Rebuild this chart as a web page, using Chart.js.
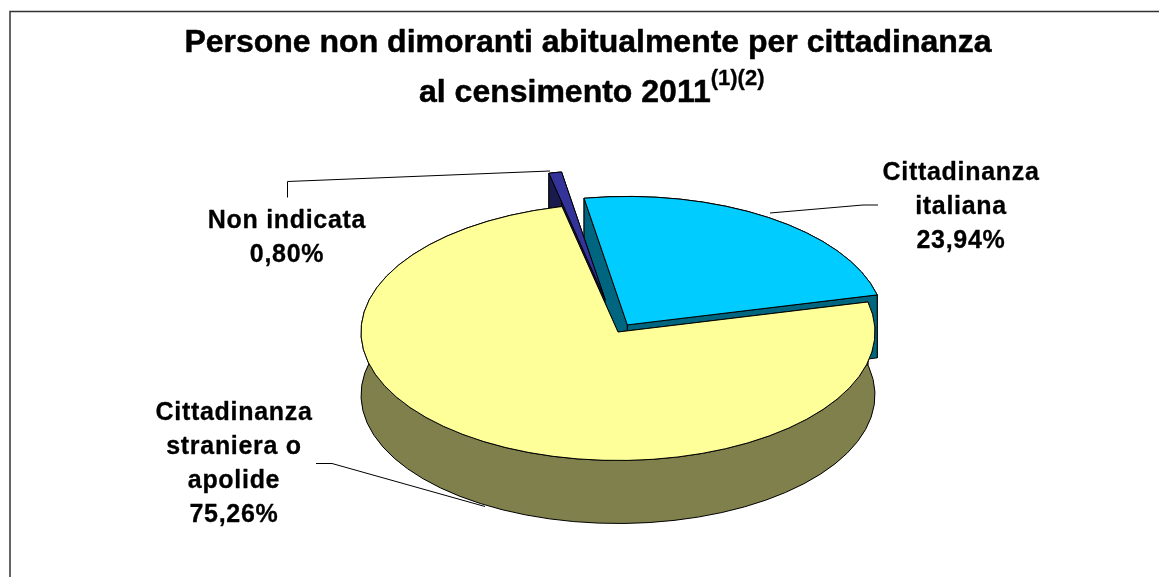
<!DOCTYPE html>
<html lang="it">
<head>
<meta charset="utf-8">
<title>Persone non dimoranti abitualmente per cittadinanza</title>
<script src="https://cdn.jsdelivr.net/npm/chart.js@4"></script>
<style>
  html, body { margin: 0; padding: 0; background: #fff; }
  canvas { display: block; }
</style>
</head>
<body>
<canvas id="chart" width="1159" height="577"></canvas>
<script>
// Series, in clockwise order from the first slice
const categories = [['Cittadinanza', 'italiana'], ['Cittadinanza', 'straniera o', 'apolide'], ['Non indicata']];
const shares = [23.94, 75.26, 0.80];
const topColors = ['#00CCFF', '#FFFF99', '#333399'];
const wallColors = ['#006680', '#80804D', '#1A1A4D'];
const explode = [17, 0, 68];
const titleLines = ['Persone non dimoranti abitualmente per cittadinanza', 'al censimento 2011'];
const titleNote = '(1)(2)';

// Pie projection
const TILT = 0.5;
const DEPTH = 63;
const RADIUS = 257;
const FONT = '"Liberation Sans", Arial, sans-serif';

// Label anchors: centre x and first baseline, plus the leader line of each slice
const labelAnchors = [
  { x: 961, y: 180, step: 34, leader: [[770, 213], [863, 205], [878, 205]] },
  { x: 234, y: 420, step: 34, leader: [[316, 463.5], [332, 463.5], [485, 506.5]] },
  { x: 287, y: 228, step: 34, leader: [[287.5, 197.5], [287.5, 181.5], [550, 171]] }
];

const formatShare = v => v.toFixed(2).replace('.', ',') + '%';

// Centre of a slice after it is pulled away along its bisector
function sliceCentre(arc, i) {
  const mid = (arc.startAngle + arc.endAngle) / 2;
  return {
    x: arc.x + Math.cos(mid) * explode[i],
    y: arc.y + Math.sin(mid) * explode[i] * TILT
  };
}

// Side faces of a slice: the rim first, the two radial cuts over it
function drawWalls(ctx, arc, i) {
  const c = sliceCentre(arc, i);
  const r = arc.outerRadius;
  const edge = a => ({ x: c.x + Math.cos(a) * r, y: c.y + Math.sin(a) * r * TILT });
  ctx.fillStyle = wallColors[i];
  ctx.strokeStyle = '#000';
  ctx.lineWidth = 1;
  ctx.beginPath();
  ctx.ellipse(c.x, c.y, r, r * TILT, 0, arc.startAngle, arc.endAngle);
  ctx.ellipse(c.x, c.y + DEPTH, r, r * TILT, 0, arc.endAngle, arc.startAngle, true);
  ctx.closePath();
  ctx.fill();
  ctx.stroke();
  [arc.startAngle, arc.endAngle].forEach(a => {
    const p = edge(a);
    ctx.beginPath();
    ctx.moveTo(c.x, c.y);
    ctx.lineTo(p.x, p.y);
    ctx.lineTo(p.x, p.y + DEPTH);
    ctx.lineTo(c.x, c.y + DEPTH);
    ctx.closePath();
    ctx.fill();
    ctx.stroke();
  });
}

// Top face: the library's own arc under a vertical squash, then a crisp outline
function drawTop(ctx, arc, i) {
  const c = sliceCentre(arc, i);
  const r = arc.outerRadius;
  ctx.save();
  ctx.translate(c.x, c.y);
  ctx.scale(1, TILT);
  ctx.translate(-arc.x, -arc.y);
  arc.draw(ctx);
  ctx.restore();
  ctx.beginPath();
  ctx.moveTo(c.x, c.y);
  ctx.ellipse(c.x, c.y, r, r * TILT, 0, arc.startAngle, arc.endAngle);
  ctx.closePath();
  ctx.strokeStyle = '#000';
  ctx.lineWidth = 1;
  ctx.stroke();
}

const pie3d = {
  id: 'pie3d',
  beforeDatasetsDraw(chart) {
    const ctx = chart.ctx;
    const arcs = chart.getDatasetMeta(0).data;
    ctx.save();
    // Back slices first so the large slice overlaps them
    [0, 2, 1].forEach(i => {
      drawWalls(ctx, arcs[i], i);
      drawTop(ctx, arcs[i], i);
    });
    ctx.restore();
    return false;
  }
};

// Filled text with a hairline stroke for a heavier bold
function heavyText(ctx, text, x, y, weight) {
  ctx.lineWidth = weight;
  ctx.strokeText(text, x, y);
  ctx.fillText(text, x, y);
}

const annotations = {
  id: 'annotations',
  afterDraw(chart) {
    const ctx = chart.ctx;
    ctx.save();

    // Chart frame, cropped on the right and at the bottom
    ctx.strokeStyle = '#333';
    ctx.lineWidth = 1.5;
    ctx.beginPath();
    ctx.moveTo(10, 577);
    ctx.lineTo(10, 11.5);
    ctx.lineTo(1159, 11.5);
    ctx.stroke();

    // Leader lines
    ctx.strokeStyle = '#000';
    ctx.lineWidth = 1;
    labelAnchors.forEach(a => {
      ctx.beginPath();
      a.leader.forEach((p, i) => i ? ctx.lineTo(p[0], p[1]) : ctx.moveTo(p[0], p[1]));
      ctx.stroke();
    });

    // Title
    ctx.fillStyle = '#000';
    ctx.lineJoin = 'round';
    ctx.textBaseline = 'alphabetic';
    ctx.textAlign = 'center';
    ctx.font = 'bold 32px ' + FONT;
    heavyText(ctx, titleLines[0], 588, 52, 0.5);
    ctx.textAlign = 'left';
    heavyText(ctx, titleLines[1], 419, 102, 0.5);
    const w = ctx.measureText(titleLines[1]).width;
    ctx.font = 'bold 22px ' + FONT;
    heavyText(ctx, titleNote, 419 + w, 85, 0.3);

    // Slice labels
    ctx.textAlign = 'center';
    ctx.font = 'bold 25px ' + FONT;
    ctx.letterSpacing = '0.7px';
    categories.forEach((lines, i) => {
      const a = labelAnchors[i];
      lines.concat(formatShare(shares[i])).forEach((text, j) => {
        heavyText(ctx, text, a.x, a.y + j * a.step, 0.3);
      });
    });
    ctx.restore();
  }
};

new Chart(document.getElementById('chart'), {
  type: 'pie',
  data: {
    labels: categories.map(l => l.join(' ')),
    datasets: [{
      data: shares,
      backgroundColor: topColors,
      borderWidth: 0
    }]
  },
  options: {
    responsive: false,
    animation: false,
    rotation: -9.7,
    radius: RADIUS,
    // Puts the pie centre where the padding box centres it
    layout: { padding: { left: 77, top: 87 } },
    plugins: { legend: { display: false }, title: { display: false }, tooltip: { enabled: false } }
  },
  plugins: [pie3d, annotations]
});
</script>
</body>
</html>
